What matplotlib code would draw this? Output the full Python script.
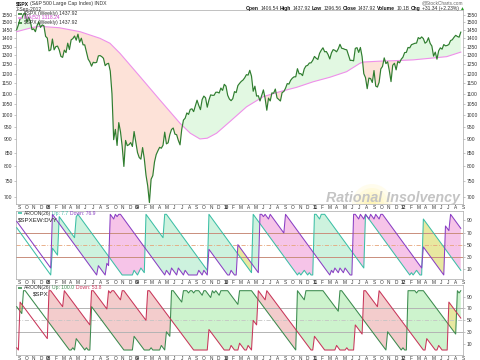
import numpy as np
import pandas as pd
import matplotlib
matplotlib.use("Agg")
import matplotlib.pyplot as plt
from matplotlib.patches import Polygon, Rectangle, Circle
from matplotlib.lines import Line2D
from matplotlib.ticker import FixedLocator, NullLocator, FixedFormatter
from matplotlib.transforms import IdentityTransform

plt.rcParams['font.family'] = ['Liberation Sans', 'DejaVu Sans']

# ---------------- data ----------------
start_date = '2007-09-07'
spx_close = [
    1453.55, 1484.25, 1525.75, 1526.75, 1557.59, 1561.80, 1500.63, 1535.28, 1509.65, 1453.70,
    1458.74, 1440.70, 1481.14, 1504.66, 1467.95, 1484.46, 1478.49,
    1411.63, 1401.02, 1325.19, 1330.61, 1395.42, 1331.29, 1349.99, 1353.11, 1330.63, 1293.37,
    1288.14, 1329.51, 1315.22, 1370.40, 1332.83, 1390.33, 1397.84, 1413.90, 1388.28, 1425.35,
    1375.93, 1400.38, 1360.68, 1360.03, 1317.93, 1278.38, 1262.90, 1239.49, 1260.68, 1257.76,
    1260.31, 1296.32, 1298.20, 1292.20, 1282.83, 1242.31, 1251.70, 1255.08, 1213.27, 1099.23,
    899.22, 940.55, 876.77, 968.75, 930.99, 873.29, 800.03, 896.24, 876.07, 879.73, 887.88, 872.80,
    931.80, 890.35, 850.12, 831.95, 825.88, 868.60, 826.84, 770.05, 735.09, 683.38, 756.55,
    768.54, 815.94, 842.50, 856.56, 869.60, 866.23, 877.52, 929.23, 882.88, 887.00, 919.14,
    940.09, 946.21, 921.23, 918.90, 896.42, 879.13, 940.38, 979.26, 987.48, 1010.48, 1004.09,
    1026.13, 1028.93, 1016.40, 1042.73, 1068.30, 1044.38, 1025.21, 1071.49, 1087.68, 1079.60,
    1036.19, 1069.30, 1093.48, 1091.38, 1091.49, 1105.98, 1106.41, 1102.47, 1126.48, 1115.10,
    1144.98, 1136.03, 1091.76, 1073.87, 1066.19, 1075.51, 1109.17, 1104.49, 1138.70, 1149.99,
    1159.90, 1166.59, 1178.10, 1194.37, 1192.13, 1217.28, 1186.69, 1110.88, 1135.68, 1087.69,
    1089.41, 1064.88, 1091.60, 1117.51, 1076.76, 1022.58, 1077.96, 1064.88, 1102.66, 1101.60,
    1121.64, 1079.25, 1071.69, 1064.59, 1104.51, 1109.55, 1125.59, 1148.67, 1146.24, 1165.15,
    1176.19, 1183.08, 1183.26, 1225.85, 1199.21, 1199.73, 1189.40, 1224.71, 1240.40, 1243.91,
    1256.77, 1257.64,
    1271.50, 1293.24, 1283.35, 1276.34, 1310.87, 1329.15, 1343.01, 1319.88, 1321.15, 1304.28,
    1279.20, 1313.80, 1332.41, 1328.17, 1319.68, 1337.38, 1363.61, 1340.20, 1337.77, 1333.27,
    1331.10, 1300.16, 1270.98, 1271.50, 1268.45, 1339.67, 1343.80, 1316.14, 1345.02, 1292.28,
    1199.38, 1178.81, 1123.53, 1176.80, 1173.97, 1154.23, 1216.01, 1136.43, 1131.42, 1155.46,
    1224.58, 1238.25, 1285.09, 1253.23, 1263.85, 1215.65, 1158.67, 1244.28, 1255.19, 1219.66,
    1265.33, 1257.60,
    1277.81, 1289.09, 1315.38, 1316.33, 1344.90, 1342.64, 1361.23, 1365.74, 1369.63, 1370.87,
    1404.17, 1397.11, 1408.47, 1398.08, 1370.26, 1378.53, 1403.36, 1369.10, 1353.39, 1295.22,
    1317.82, 1278.04, 1325.66, 1342.84, 1335.02, 1362.16, 1354.68, 1356.78, 1362.66, 1385.97,
    1390.99, 1405.87, 1418.16, 1411.13, 1406.58, 1437.92]

# 52-week moving average, read at vertices (week index, value)
ma_wk = [0, 9.8, 13.7, 25, 37.2, 48.9, 54.8, 60.7, 72.5, 84.2, 96, 102, 107.7, 112, 117.5,
         125.3, 135.1, 144.9, 154.7, 164.5, 174.3, 184.1, 193.9, 201.7, 203.7, 213.5, 223.3,
         233, 242.9, 252.7, 261]
ma_val = [1441, 1469, 1475, 1466, 1441, 1400, 1370, 1311, 1184, 1069, 966, 925, 902, 905, 925,
          973, 1038, 1085, 1109, 1130, 1158, 1181, 1210, 1255, 1262, 1267, 1270,
          1274, 1283, 1292, 1318]

main_ticks = list(range(700, 1551, 50))

# Panel 2: AROON(26) of $SPXEW:DVY  (week index, value)
p2_up_wk = [0, 20, 21, 24, 25, 34, 35, 36, 62, 68, 69, 71, 73, 75, 76, 86, 87, 88, 112, 113,
            138, 139, 141, 165, 166, 167, 169, 171, 172, 173, 174, 175, 176, 178, 179, 181,
            204, 205, 231, 232, 233, 235, 237, 238, 239, 261]
p2_up_val = [78, 0, 44.2, 32.7, 96.2, 61.5, 96.2, 100, 0, 0, 7.7, 0, 11.5, 3.8, 100, 61.5, 100,
             100, 7.7, 100, 3.8, 100, 92.3, 0, 3.8, 0, 7.7, 0, 3.8, 0, 0, 100, 100, 92.3, 100,
             100, 11.5, 100, 0, 3.8, 0, 7.7, 0, 0, 92.3, 7.7]
p2_dn_wk = [0, 20, 21, 47, 48, 52, 53, 54, 55, 56, 57, 58, 59, 60, 61, 87, 88, 90, 91, 94, 95,
            98, 99, 101, 106, 107, 109, 110, 112, 113, 124, 125, 126, 128, 129, 130, 142, 143,
            144, 145, 146, 148, 149, 157, 158, 184, 185, 186, 187, 189, 190, 192, 193, 196,
            197, 198, 199, 201, 202, 204, 205, 207, 208, 210, 211, 213, 214, 215, 238, 239,
            251, 252, 254, 255, 261]
p2_dn_val = [88.5, 11.5, 100, 0, 15.4, 0, 19.2, 15.4, 100, 96.2, 92.3, 100, 96.2, 100, 100, 0,
             7.7, 0, 11.5, 0, 11.5, 0, 7.7, 0, 0, 7.7, 0, 7.7, 0, 42.3, 0, 0, 7.7, 0, 0, 50,
             3.8, 100, 100, 96.2, 100, 92.3, 100, 69.2, 100, 0, 7.7, 3.8, 11.5, 3.8, 11.5,
             3.8, 11.5, 0, 0, 100, 100, 92.3, 100, 92.3, 100, 92.3, 100, 92.3, 100, 92.3, 100,
             100, 11.5, 46.2, 0, 80.8, 73.1, 100, 76.9]
p2_segments = [(20.5, 54.17, 'g'), (54.17, 75.42, 'p'), (75.42, 129.7, 'g'),
               (129.7, 138.15, 'y'), (138.15, 142.85, 'g'), (142.85, 174.37, 'p'),
               (174.37, 197.37, 'g'), (197.37, 238.2, 'p'), (238.2, 251.55, 'y'),
               (251.55, 262, 'p')]

# Panel 3: AROON(26) of $SPX
p3_up_wk = [0, 3, 4, 5, 31, 32, 33, 34, 35, 40, 41, 42, 43, 44, 63, 68, 69, 75, 78, 79, 80, 84,
            85, 87, 88, 90, 91, 92, 97, 98, 100, 101, 102, 103, 104, 105, 107, 108, 109, 110,
            111, 112, 113, 114, 115, 116, 117, 118, 119, 120, 124, 130, 131, 138, 164, 165,
            166, 167, 168, 169, 170, 180, 189, 190, 191, 217, 218, 226, 227, 228, 229, 230,
            234, 235, 236, 239, 258, 259, 260, 261]
p3_up_val = [73.1, 61.5, 100, 100, 0, 0, 3.8, 0, 19.2, 0, 3.8, 0, 0, 73.1, 0, 0, 23.1, 0, 0,
             3.8, 0, 0, 7.7, 0, 30.8, 23.1, 100, 100, 80.8, 100, 100, 96.2, 100, 100, 96.2,
             100, 100, 96.2, 92.3, 100, 100, 96.2, 92.3, 88.5, 100, 96.2, 100, 96.2, 92.3,
             100, 100, 76.9, 100, 100, 0, 100, 96.2, 92.3, 88.5, 84.6, 100, 100, 65.4, 100,
             100, 0, 30.8, 0, 3.8, 0, 0, 100, 100, 96.2, 100, 100, 26.9, 100, 96.2, 100]
p3_dn_wk = [0, 1, 2, 18, 19, 20, 27, 28, 43, 44, 45, 53, 54, 55, 56, 57, 61, 62, 63, 76, 77, 78,
            104, 112, 113, 122, 125, 126, 128, 130, 131, 134, 135, 136, 138, 139, 141, 142,
            143, 146, 147, 173, 174, 175, 181, 187, 188, 190, 193, 194, 195, 198, 199, 203,
            204, 205, 212, 213, 239, 240, 241, 246, 247, 248, 250, 253, 254, 261]
p3_dn_val = [3.8, 0, 80.8, 19.2, 100, 100, 73.1, 100, 42.3, 100, 100, 69.2, 100, 96.2, 100,
             100, 84.6, 100, 100, 50, 100, 100, 0, 0, 34.6, 0, 0, 7.7, 0, 0, 11.5, 0, 0, 7.7,
             0, 50, 42.3, 100, 96.2, 84.6, 100, 0, 0, 23.1, 0, 0, 7.7, 0, 0, 3.8, 0, 0, 42.3,
             26.9, 100, 100, 73.1, 100, 0, 0, 19.2, 0, 0, 7.7, 0, 0, 80.8, 53.8]
p3_segments = [(1.85, 3.4, 'y'), (18.4, 90.4, 'p'), (90.4, 141.75, 'g'),
               (141.75, 164.35, 'p'), (164.35, 203.35, 'g'), (203.35, 229.37, 'p'),
               (229.37, 253.55, 'g'), (253.55, 258.5, 'y'), (258.5, 262, 'g')]

osc_ticks = [10, 30, 50, 70, 90]

# ---------------- figure ----------------
W, H = 480, 360
fig = plt.figure(figsize=(W / 100, H / 100), dpi=100)
fig.patch.set_facecolor('white')


def rect(x0, y0, x1, y1):
    return [x0 / W, 1 - y1 / H, (x1 - x0) / W, (y1 - y0) / H]


ax1 = fig.add_axes(rect(16, 10, 463, 204))
ax2 = fig.add_axes(rect(16, 210.5, 463, 279))
ax3 = fig.add_axes(rect(16, 285, 463, 355))

dates = pd.date_range(start_date, periods=len(spx_close), freq='W-FRI')
wk = ((dates - dates[0]) / pd.Timedelta(days=7)).to_numpy()
closes = np.array(spx_close)

# month tick positions (centre of each month)
months = pd.date_range('2007-09-01', '2012-09-01', freq='MS')
m_pos, m_lab = [], []
for m in months:
    mid = m + pd.Timedelta(days=m.days_in_month / 2.0)
    m_pos.append((mid - dates[0]) / pd.Timedelta(days=7))
    m_lab.append(f"{m.year % 100:02d}" if m.month == 1 else 'JFMAMJJASOND'[m.month - 1])

XL = (-0.4, 262.3)
TXT = '#333333'
for ax in (ax1, ax2, ax3):
    ax.set_xlim(*XL)
    for s in ax.spines.values():
        s.set_color('#a8a8a8')
        s.set_linewidth(0.5)
    ax.set_xticks(m_pos)
    ax.set_xticklabels(m_lab)
    ax.tick_params(axis='x', length=0, pad=0.8, labelsize=3.4, labelcolor=TXT)
    for lbl in ax.get_xticklabels():
        if lbl.get_text().isdigit():
            lbl.set_fontweight('bold')

# ---------------- main panel ----------------
ax1.set_yscale('log')
ax1.set_ylim(679, 1584)
ax1.yaxis.set_major_locator(FixedLocator(main_ticks))
ax1.yaxis.set_minor_locator(NullLocator())
ax1.yaxis.set_major_formatter(FixedFormatter([str(t) for t in main_ticks]))
ax1.tick_params(axis='y', which='both', left=True, right=True, labelleft=True,
                labelright=True, length=1.2, width=0.4, pad=1.2, labelsize=3.6,
                labelcolor=TXT, color='#999999')

fill_poly = np.vstack([np.column_stack([wk, closes]),
                       np.column_stack([ma_wk[::-1], ma_val[::-1]])])
ma_pts = np.column_stack([ma_wk, ma_val]).astype(float)
ext_l = [[ma_wk[0] - 10, ma_val[0]]]
ext_r = [[ma_wk[-1] + 10, ma_val[-1]]]
clip_above = np.vstack([ext_l, ma_pts, ext_r, [[ma_wk[-1] + 10, 1e5], [ma_wk[0] - 10, 1e5]]])
clip_below = np.vstack([ext_l, ma_pts, ext_r, [[ma_wk[-1] + 10, 1], [ma_wk[0] - 10, 1]]])
for clip_xy, col in ((clip_above, '#e2f8e2'), (clip_below, '#fde2d8')):
    p = Polygon(fill_poly, closed=True, facecolor=col, edgecolor='none', zorder=1)
    ax1.add_patch(p)
    p.set_clip_path(Polygon(clip_xy, closed=True, transform=ax1.transData))

ax1.plot(ma_wk, ma_val, color='#ee90ea', lw=0.8, zorder=3)
ax1.plot(wk, closes, color='#2f7d2f', lw=0.85, zorder=4)

# watermark glow + text
for r, a in ((20, 0.18), (16, 0.2), (12, 0.22), (8, 0.25), (4, 0.3)):
    c = Circle((372, H - 204), r, transform=IdentityTransform(), facecolor='#fff3a0',
               edgecolor='none', alpha=a, zorder=0.5)
    ax1.add_patch(c)
fig.text(392.5 / W, 1 - 202 / H, 'Rational Insolvency', ha='center', va='baseline',
         fontsize=10.3, fontweight='bold', style='italic', color='#c4c4c4', zorder=6)

# ---------------- oscillator panels ----------------
def aroon_panel(ax, up_wk, up_val, dn_wk, dn_val, segs, fills, up_c, dn_c, ref_c, mid_c, ylim):
    ax.set_ylim(*ylim)
    poly = np.vstack([np.column_stack([up_wk, up_val]),
                      np.column_stack([dn_wk[::-1], dn_val[::-1]])])
    for a, b, key in segs:
        p = Polygon(poly, closed=True, facecolor=fills[key], edgecolor='none', zorder=1)
        ax.add_patch(p)
        p.set_clip_path(Rectangle((a, -50), b - a, 200, transform=ax.transData))
    ax.axhline(70, color=ref_c, lw=0.7, zorder=2)
    ax.axhline(30, color=ref_c, lw=0.7, zorder=2)
    ax.axhline(50, color=mid_c, lw=0.6, ls=(0, (5, 2, 1, 2)), zorder=2)
    ax.plot(up_wk, up_val, color=up_c, lw=0.75, zorder=3)
    ax.plot(dn_wk, dn_val, color=dn_c, lw=0.75, zorder=3)
    ax.yaxis.tick_right()
    ax.set_yticks(osc_ticks)
    ax.set_yticklabels([str(t) for t in osc_ticks])
    ax.tick_params(axis='y', length=1.2, width=0.4, pad=1.2, labelsize=3.6,
                   labelcolor=TXT, color='#999999')


TEAL, PURPLE = '#3cbfa6', '#8a3fc4'
GREEN3, RED3 = '#3b8a4e', '#c8365a'
aroon_panel(ax2, p2_up_wk, p2_up_val, p2_dn_wk, p2_dn_val, p2_segments,
            {'g': '#cdf2de', 'p': '#f6c4e8', 'y': '#e8e8a0'}, TEAL, PURPLE,
            '#c98e7c', '#e6a57a', (-6.6, 106.3))
aroon_panel(ax3, p3_up_wk, p3_up_val, p3_dn_wk, p3_dn_val, p3_segments,
            {'g': '#cdf3cd', 'p': '#f3cccc', 'y': '#e8e8a0'}, GREEN3, RED3,
            '#b4b4b4', '#c4c4c4', (-8.4, 109.6))

# ---------------- texts ----------------
renderer = fig.canvas.get_renderer()


def rich(x, y, parts, size=3.6, align='left', gap=1.3):
    objs = []
    for s, col, wt in parts:
        objs.append(fig.text(0, 1 - y / H, s, fontsize=size, color=col, fontweight=wt,
                             ha='left', va='center', zorder=7))
    widths = [t.get_window_extent(renderer).width for t in objs]
    total = sum(widths) + gap * (len(objs) - 1)
    cur = x - total if align == 'right' else x
    for t, w in zip(objs, widths):
        t.set_x(cur / W)
        cur += w + gap
    return objs


def marker(x0, y, col, lw=1.2):
    fig.add_artist(Line2D([x0 / W, (x0 + 4) / W], [1 - y / H] * 2, transform=fig.transFigure,
                          color=col, lw=lw, solid_capstyle='butt', zorder=7))


hdr = rich(16, 3.5, [('\\$SPX', '#111111', 'bold'),
                     ('(S&P 500 Large Cap Index) INDX', TXT, 'normal')], size=3.7)
fig.text(16 / W, 1 - 9 / H, '7-Sep-2012', fontsize=3.6, color=TXT, va='center')
fig.text(463 / W, 1 - 3 / H, '@StockCharts.com', fontsize=3.4, color='#666666', ha='right',
         va='center')
rich(465, 8.5, [('Open', '#111111', 'bold'), ('1406.54', TXT, 'normal'),
                ('High', '#111111', 'bold'), ('1437.92', TXT, 'normal'),
                ('Low', '#111111', 'bold'), ('1396.56', TXT, 'normal'),
                ('Close', '#111111', 'bold'), ('1437.92', TXT, 'normal'),
                ('Volume', '#111111', 'bold'), ('10.1B', TXT, 'normal'),
                ('Chg', '#111111', 'bold'), ('+31.34 (+2.23%)', TXT, 'normal'),
                ('\u25b2', '#2a9a2a', 'normal')], size=3.6, align='right')

# main legend
marker(18, 13.5, '#2f7d2f')
rich(24, 13.5, [('\\$SPX (Weekly) 1437.92', TXT, 'normal')])
marker(18, 18, '#ee90ea')
rich(24, 18, [('MA(52) 1318.24', '#cc44cc', 'normal')])
marker(18, 22.5, '#2f7d2f')
rich(24, 22.5, [('\\$SPX (Weekly) 1437.92', TXT, 'normal')])

# panel 2 legend
marker(18, 213.2, TEAL)
rich(24, 213.2, [('AROON(26)', TXT, 'normal'), ('Up: 7.7', TEAL, 'normal'),
                 ('Down: 76.9', PURPLE, 'normal')])
fig.text(18 / W, 1 - 219.5 / H, '\\$SPXEW:DVY', fontsize=4.4, color='#222222', va='center')

# panel 3 legend
marker(18, 287.8, GREEN3)
rich(24, 287.8, [('AROON(26)', TXT, 'normal'), ('Up: 100.0', GREEN3, 'normal'),
                 ('Down: 53.8', RED3, 'normal')])
fig.text(33 / W, 1 - 294.5 / H, '\\$SPX', fontsize=4.4, color='#222222', va='center')

fig.savefig('out.png', dpi=100, facecolor='white')
